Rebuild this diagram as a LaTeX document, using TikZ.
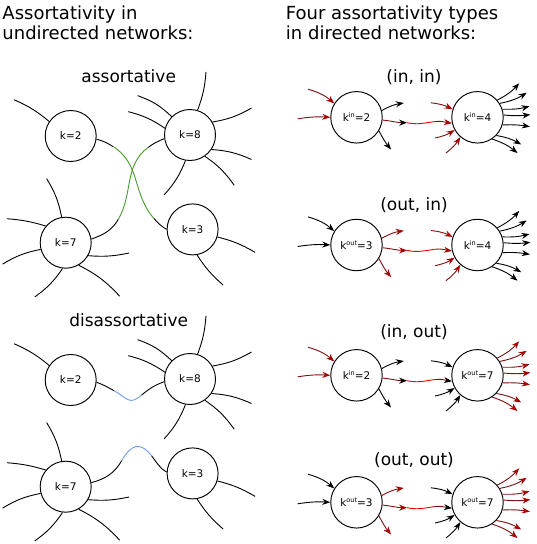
\documentclass[tikz,border=0pt]{standalone}
\usepackage{fontspec}
\setmainfont{DejaVu Sans}
\usetikzlibrary{arrows.meta}
\definecolor{dred}{RGB}{125,15,15}
\definecolor{ared}{RGB}{170,0,0}
\definecolor{bred}{RGB}{235,0,0}
\definecolor{egreen}{RGB}{70,155,40}
\definecolor{eblue}{RGB}{110,155,225}
\newcommand\kin{k\raisebox{4pt}{\fontsize{6.5}{6.5}\selectfont in}}
\newcommand\kout{k\raisebox{4pt}{\fontsize{6.5}{6.5}\selectfont out}}
\newcommand\ustub[5]{\draw[ulink] (#1.#2) to[bend left=#5] ++(#3,#4);}
\newcommand\undir[2]{%
\begin{scope}[shift={(0,-#2)}]
\node[unode] (#12) at (70.7,-136) {k=2};
\node[unode] (#18) at (190,-135) {k=8};
\node[unode] (#17) at (65.7,-242.7) {k=7};
\node[unode] (#13) at (192.6,-229.4) {k=3};
\ustub{#12}{146}{-35}{21.7}{-8}
\ustub{#18}{73}{8.4}{38.3}{-8}
\ustub{#18}{135}{-34}{21}{-12}
\ustub{#18}{165}{-36.7}{16.6}{-10}
\ustub{#18}{30}{39}{14}{-10}
\ustub{#18}{-34}{40}{-10}{10}
\ustub{#18}{-55}{29.3}{-29}{10}
\ustub{#18}{-100}{-21.4}{-34.3}{10}
\ustub{#17}{99}{-15}{38.4}{-10}
\ustub{#17}{140}{-39}{7.3}{-6}
\ustub{#17}{-165}{-38}{-14.7}{-10}
\ustub{#17}{-97}{-27.7}{-28.4}{10}
\ustub{#17}{-60}{41}{-31}{10}
\ustub{#17}{-30}{41}{2.7}{-8}
\ustub{#13}{-17}{37.7}{-15.4}{8}
\ustub{#13}{-80}{26}{-30}{-8}
\end{scope}}
\newcommand\dirpanel[6]{%
\begin{scope}[shift={(356.5,-#2)}]
\node[dnode] (#1L) at (0,0) {#5};
\node[dnode] (#1R) at (121,0) {#6};
\node[title] (#1T) at (57.5,{#2-#3}) {#4};
\draw[lin] (-48.4,28.1) to[bend left=12] (#1L.148);
\draw[lin] (-58.9,-1.5) to[bend left=6] (#1L.180);
\draw[lout] (#1L.15) to[bend left=10] (47.3,14.3);
\draw[lout] (#1L.-31) to[bend right=6] (34.5,-32.2);
\coordinate (#1m1) at (50.6,-5.4);
\coordinate (#1m2) at (78,-4.3);
\draw[lout,draw=dred] (#1L.-6) to[out=-6,in=180] (#1m1);
\draw[bred] (#1m1) to[out=-12,in=188] (#1m2);
\draw[rin,draw=dred] (#1m2) to[out=8,in=172] (#1R.193);
\begin{scope}[shift={(121,0)}]
\draw[rin] (-46.6,14.5) to[bend left=10] (#1R.162);
\draw[rin] (-42.5,-20.7) to[bend right=10] (#1R.209);
\draw[rin] (-31.6,-35.7) to[bend right=10] (#1R.229);
\draw[rout] (#1R.41) to[bend right=10] (41.7,34);
\draw[rout] (#1R.32) to[bend right=10] (49.2,24.5);
\draw[rout] (#1R.18) to[bend right=8] (52,11);
\draw[rout] (#1R.5) to[bend right=6] (52.9,2.7);
\draw[rout] (#1R.-17) to[bend left=6] (52.4,-9.4);
\draw[rout] (#1R.-44) to[bend left=10] (43.7,-27.2);
\draw[rout] (#1R.-56) to[bend left=10] (40,-35.7);
\end{scope}
\end{scope}}
\begin{document}
\begin{tikzpicture}[x=1pt,y=1pt,line width=0.9pt,
  unode/.style={circle,draw,line width=0.95pt,minimum size=51pt,inner sep=0pt,font=\fontsize{10.5}{12}\selectfont},
  dnode/.style={unode,minimum size=51.5pt},
  ulink/.style={draw=black},
  head/.style={anchor=base west,inner sep=0pt,font=\fontsize{18}{20}\selectfont},
  title/.style={anchor=base,inner sep=0pt,font=\fontsize{17}{20}\selectfont},
  redstub/.style={draw=dred,-{Stealth[length=8pt,width=6pt,color=ared]}},
  blackstub/.style={draw=black,-{Stealth[length=8pt,width=6pt,color=black]}}]
\useasboundingbox (0,0) rectangle (536,-544);
\node[head] (h1) at (2,-19.3) {Assortativity in};
\node[head] (h2) at (2,-39) {undirected networks:};
\node[head] (h3) at (285.5,-19.3) {Four assortativity types};
\node[head] (h4) at (285.5,-39) {in directed networks:};
\node[title] (t1) at (128.7,-82.7) {assortative};
\node[title] (t2) at (128.7,-326.5) {disassortative};
\undir{a}{0}
\undir{d}{244}
% assortative edges
\coordinate (ga) at (113.3,-146.7);
\coordinate (gb) at (154,-218.5);
\draw (a2.-7) to[out=-15,in=148] (ga);
\draw[egreen] (ga) to[out=-32,in=132] (gb);
\draw (gb) to[out=-48,in=150] (a3.180);
\coordinate (gc) at (118.3,-219.3);
\coordinate (gd) at (148.3,-147.3);
\draw (a7.8) to[out=20,in=240] (gc);
\draw[egreen] (gc) to[out=60,in=216] (gd);
\draw (gd) to[out=36,in=202] (a8.188);
% disassortative edges
\coordinate (b1) at (114,-390.7);
\coordinate (b2) at (141.7,-395);
\draw (d2.-5) to[out=-20,in=151] (b1);
\draw[eblue] (b1) to[out=-29,in=220,looseness=1.5] (b2);
\draw (b2) to[out=40,in=200] (d8.186);
\coordinate (b3) at (121.7,-460.7);
\coordinate (b4) at (151.7,-456);
\draw (d7.9) to[out=15,in=240] (b3);
\draw[eblue] (b3) to[out=60,in=128,looseness=1.6] (b4);
\draw (b4) to[out=-52,in=150] (d3.177);
% directed panels
\tikzset{lin/.style={redstub},lout/.style={blackstub},rin/.style={redstub},rout/.style={blackstub}}
\dirpanel{pA}{117.3}{82.7}{(in, in)}{\kin=2}{\kin=4}
\tikzset{lin/.style={blackstub},lout/.style={redstub},rin/.style={redstub},rout/.style={blackstub}}
\dirpanel{pB}{245}{210.7}{(out, in)}{\kout=3}{\kin=4}
\tikzset{lin/.style={redstub},lout/.style={blackstub},rin/.style={blackstub},rout/.style={redstub}}
\dirpanel{pC}{375.3}{337}{(in, out)}{\kin=2}{\kout=7}
\tikzset{lin/.style={blackstub},lout/.style={redstub},rin/.style={blackstub},rout/.style={redstub}}
\dirpanel{pD}{502.3}{465}{(out, out)}{\kout=3}{\kout=7}
\end{tikzpicture}
\end{document}
